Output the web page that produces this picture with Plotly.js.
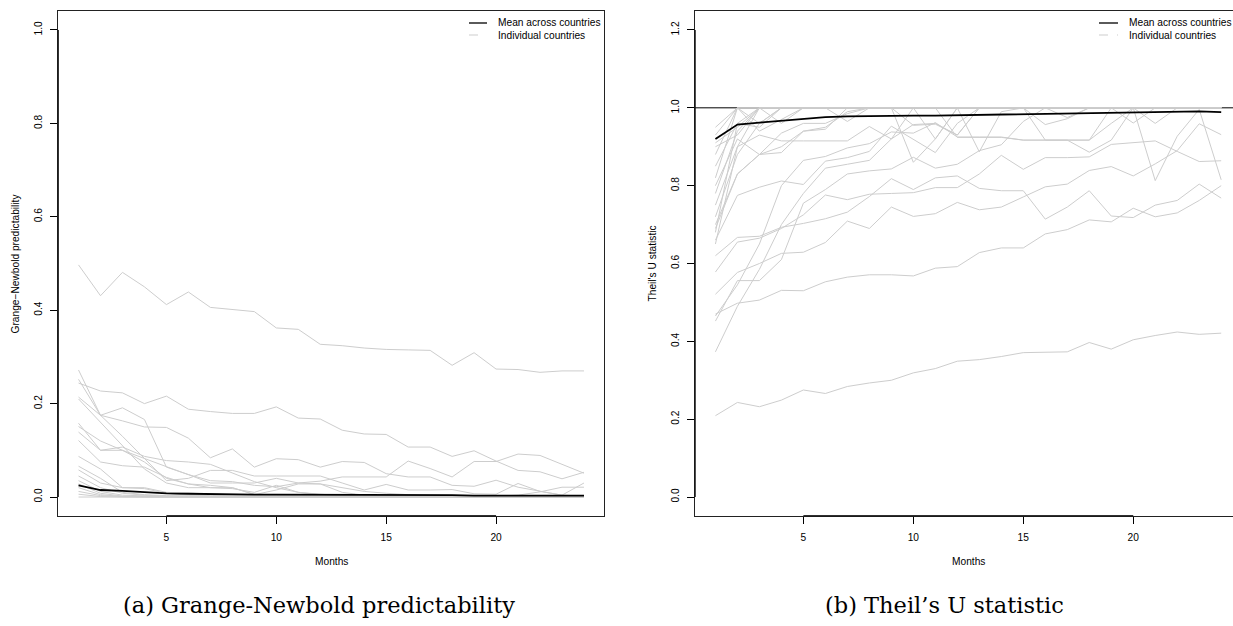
<!DOCTYPE html>
<html><head><meta charset="utf-8">
<script src="https://cdn.plot.ly/plotly-3.0.1.min.js"></script>
<style>html,body{margin:0;padding:0;background:#fff;} #chart{width:1233px;height:626px;}</style>
</head><body><div id="chart"></div>
<script>
// ---------- data ----------
const months = [1,2,3,4,5,6,7,8,9,10,11,12,13,14,15,16,17,18,19,20,21,22,23,24];
const monthTicks = [5,10,15,20];
const gnTicks = [0,0.2,0.4,0.6,0.8,1.0];
const tuTicks = [0,0.2,0.4,0.6,0.8,1.0,1.2];

// (a) Grange-Newbold predictability, individual countries
const gn01 = [0.497,0.431,0.481,0.450,0.412,0.439,0.406,0.402,0.397,0.362,0.359,0.327,0.324,0.319,0.316,0.315,0.314,0.282,0.309,0.274,0.273,0.267,0.270,0.270];
const gn02 = [0.244,0.227,0.223,0.200,0.216,0.188,0.183,0.179,0.179,0.193,0.169,0.167,0.143,0.135,0.134,0.107,0.107,0.087,0.099,0.077,0.057,0.054,0.039,0.053];
const gn03 = [0.214,0.175,0.163,0.150,0.149,0.126,0.084,0.103,0.064,0.082,0.080,0.064,0.076,0.074,0.050,0.043,0.043,0.025,0.023,0.036,0.021,0.013,0.004,0.002];
const gn04 = [0.252,0.175,0.191,0.166,0.064,0.048,0.035,0.033,0.025,0.022,0.030,0.034,0.043,0.043,0.043,0.077,0.061,0.043,0.076,0.076,0.092,0.089,0.070,0.051];
const gn05 = [0.272,0.175,0.130,0.083,0.035,0.040,0.057,0.057,0.045,0.045,0.045,0.045,0.030,0.015,0.027,0.015,0.015,0.016,0.007,0.006,0.029,0.012,0.004,0.030];
const gn06 = [0.210,0.160,0.110,0.060,0.030,0.020,0.020,0.018,0.010,0.025,0.010,0.005,0.002,0.002,0.002,0.002,0.002,0.002,0.002,0.002,0.004,0.011,0.021,0.021];
const gn07 = [0.158,0.100,0.107,0.087,0.078,0.075,0.070,0.052,0.033,0.020,0.010,0.006,0.003,0.002,0.002,0.001,0.001,0.001,0.001,0.001,0.001,0.001,0.001,0.001];
const gn08 = [0.151,0.120,0.100,0.082,0.065,0.048,0.030,0.030,0.030,0.040,0.030,0.028,0.020,0.012,0.008,0.005,0.004,0.004,0.003,0.003,0.002,0.002,0.002,0.002];
const gn09 = [0.139,0.100,0.100,0.075,0.040,0.028,0.025,0.020,0.005,0.015,0.028,0.028,0.010,0.004,0.002,0.002,0.002,0.001,0.001,0.001,0.001,0.001,0.001,0.001];
const gn10 = [0.121,0.075,0.067,0.064,0.042,0.028,0.020,0.020,0.006,0.003,0.002,0.002,0.002,0.001,0.001,0.001,0.001,0.001,0.001,0.001,0.001,0.001,0.001,0.001];
const gn11 = [0.087,0.060,0.020,0.020,0.010,0.008,0.006,0.005,0.004,0.003,0.003,0.002,0.002,0.002,0.001,0.001,0.001,0.001,0.001,0.001,0.001,0.001,0.001,0.001];
const gn12 = [0.066,0.040,0.010,0.005,0.003,0.002,0.002,0.001,0.001,0.001,0.001,0.001,0.001,0.001,0.001,0.001,0.001,0.001,0.001,0.001,0.001,0.001,0.001,0.001];
const gn13 = [0.058,0.030,0.020,0.018,0.008,0.004,0.003,0.002,0.002,0.001,0.001,0.001,0.001,0.001,0.001,0.001,0.001,0.001,0.001,0.001,0.001,0.001,0.001,0.001];
const gn14 = [0.045,0.020,0.008,0.004,0.002,0.001,0.001,0.001,0.001,0.001,0.001,0.001,0.000,0.000,0.000,0.000,0.000,0.000,0.000,0.000,0.000,0.000,0.000,0.000];
const gn15 = [0.035,0.012,0.004,0.002,0.001,0.001,0.000,0.000,0.000,0.000,0.000,0.000,0.000,0.000,0.000,0.000,0.000,0.000,0.000,0.000,0.000,0.000,0.000,0.000];
const gn16 = [0.028,0.008,0.002,0.001,0.000,0.000,0.000,0.000,0.000,0.000,0.000,0.000,0.000,0.000,0.000,0.000,0.000,0.000,0.000,0.000,0.000,0.000,0.000,0.000];
const gn17 = [0.020,0.005,0.001,0.000,0.000,0.000,0.000,0.000,0.000,0.000,0.000,0.000,0.000,0.000,0.000,0.000,0.000,0.000,0.000,0.000,0.000,0.000,0.000,0.000];
const gn18 = [0.012,0.003,0.001,0.000,0.000,0.000,0.000,0.000,0.000,0.000,0.000,0.000,0.000,0.000,0.000,0.000,0.000,0.000,0.000,0.000,0.000,0.000,0.000,0.000];
const gn19 = [0.006,0.001,0.000,0.000,0.000,0.000,0.000,0.000,0.000,0.000,0.000,0.000,0.000,0.000,0.000,0.000,0.000,0.000,0.000,0.000,0.000,0.000,0.000,0.000];
const gn20 = [0.000,0.000,0.000,0.000,0.000,0.000,0.000,0.000,0.000,0.000,0.000,0.000,0.000,0.000,0.000,0.000,0.000,0.000,0.000,0.000,0.000,0.000,0.000,0.000];
const gnMean = [0.025,0.015,0.013,0.010,0.008,0.007,0.006,0.006,0.005,0.005,0.005,0.005,0.004,0.004,0.004,0.004,0.004,0.004,0.003,0.003,0.003,0.003,0.003,0.003];

// (b) Theil's U statistic, individual countries
const tu01 = [0.209,0.243,0.232,0.249,0.275,0.266,0.284,0.293,0.300,0.319,0.330,0.349,0.353,0.361,0.371,0.372,0.373,0.397,0.380,0.404,0.415,0.424,0.418,0.421];
const tu02 = [0.470,0.498,0.506,0.531,0.530,0.553,0.565,0.571,0.571,0.568,0.588,0.592,0.628,0.640,0.640,0.676,0.687,0.712,0.707,0.742,0.720,0.730,0.762,0.800];
const tu03 = [0.521,0.577,0.600,0.626,0.629,0.654,0.709,0.690,0.745,0.721,0.728,0.757,0.738,0.745,0.771,0.797,0.804,0.839,0.849,0.825,0.856,0.890,0.959,0.931];
const tu04 = [0.620,0.667,0.670,0.693,0.703,0.715,0.732,0.772,0.818,0.790,0.820,0.825,0.793,0.787,0.787,0.714,0.745,0.787,0.722,0.718,0.750,0.762,0.804,0.768];
const tu05 = [0.578,0.655,0.665,0.690,0.725,0.776,0.764,0.778,0.780,0.782,0.795,0.795,0.830,0.878,0.842,0.872,0.872,0.874,0.906,0.910,0.915,0.888,0.862,0.864];
const tu06 = [0.452,0.556,0.556,0.610,0.755,0.790,0.830,0.838,0.843,0.873,0.845,0.855,0.890,0.905,0.965,1.000,0.975,1.000,1.000,1.000,1.000,1.000,1.000,1.000];
const tu07 = [0.373,0.490,0.585,0.700,0.780,0.845,0.855,0.865,0.920,0.957,0.960,0.930,1.000,1.000,1.000,1.000,1.000,1.000,1.000,1.000,1.000,1.000,1.000,1.000];
const tu08 = [0.465,0.545,0.650,0.800,0.865,0.875,0.897,0.908,0.938,0.935,0.962,0.925,0.925,0.925,0.917,0.917,0.917,0.886,0.917,1.000,0.960,1.000,1.000,1.000];
const tu09 = [0.660,0.775,0.796,0.812,0.803,0.863,0.872,0.888,0.953,0.920,0.885,0.960,1.000,1.000,1.000,1.000,1.000,1.000,1.000,1.000,1.000,1.000,1.000,1.000];
const tu10 = [0.700,0.830,0.880,0.885,0.940,0.945,1.000,1.000,1.000,0.955,0.958,0.930,1.000,1.000,1.000,1.000,1.000,1.000,1.000,1.000,1.000,1.000,1.000,1.000];
const tu11 = [0.750,0.900,0.930,0.915,0.915,0.915,0.915,0.952,0.920,1.000,1.000,0.924,0.924,0.924,0.917,0.917,0.917,0.917,0.960,1.000,1.000,1.000,1.000,1.000];
const tu12 = [0.800,0.920,0.880,0.935,0.960,0.960,0.985,1.000,1.000,1.000,0.920,1.000,0.887,0.990,1.000,0.957,0.972,1.000,1.000,0.961,1.000,1.000,1.000,1.000];
const tu13 = [0.850,0.960,1.000,0.960,1.000,1.000,0.965,1.000,1.000,0.860,0.920,1.000,1.000,1.000,1.000,1.000,1.000,1.000,1.000,1.000,0.813,0.927,0.996,0.815];
const tu14 = [0.880,1.000,0.940,0.970,1.000,1.000,1.000,1.000,1.000,1.000,1.000,1.000,1.000,1.000,1.000,0.917,0.917,0.917,1.000,1.000,1.000,1.000,1.000,1.000];
const tu15 = [0.900,0.930,1.000,1.000,1.000,1.000,1.000,1.000,1.000,1.000,1.000,1.000,1.000,1.000,1.000,1.000,1.000,1.000,1.000,1.000,1.000,1.000,1.000,1.000];
const tu16 = [0.930,1.000,1.000,1.000,1.000,1.000,1.000,1.000,1.000,1.000,1.000,1.000,1.000,1.000,1.000,1.000,1.000,1.000,1.000,1.000,1.000,1.000,1.000,1.000];
const tu17 = [0.950,1.000,0.960,1.000,1.000,1.000,1.000,1.000,1.000,1.000,1.000,1.000,1.000,1.000,1.000,1.000,1.000,1.000,1.000,1.000,1.000,1.000,1.000,1.000];
const tu18 = [0.650,0.900,1.000,1.000,1.000,1.000,1.000,1.000,1.000,1.000,1.000,1.000,1.000,1.000,1.000,1.000,1.000,1.000,1.000,1.000,1.000,1.000,1.000,1.000];
const tu19 = [0.680,0.960,0.950,1.000,1.000,1.000,1.000,1.000,1.000,1.000,1.000,1.000,1.000,1.000,1.000,1.000,1.000,1.000,1.000,1.000,1.000,1.000,1.000,1.000];
const tu20 = [0.720,0.880,0.960,1.000,1.000,1.000,1.000,1.000,1.000,1.000,1.000,1.000,1.000,1.000,1.000,1.000,1.000,1.000,1.000,1.000,1.000,1.000,1.000,1.000];
const tu21 = [0.780,0.940,1.000,1.000,1.000,1.000,1.000,1.000,1.000,1.000,1.000,1.000,1.000,1.000,1.000,1.000,1.000,1.000,1.000,1.000,1.000,1.000,1.000,1.000];
const tu22 = [0.820,1.000,1.000,1.000,1.000,1.000,1.000,1.000,1.000,1.000,1.000,1.000,1.000,1.000,1.000,1.000,1.000,1.000,1.000,1.000,1.000,1.000,1.000,1.000];
const tu23 = [0.690,0.830,0.880,0.900,0.940,0.950,0.990,1.000,1.000,1.000,1.000,1.000,1.000,1.000,1.000,1.000,1.000,1.000,1.000,1.000,1.000,1.000,1.000,1.000];
const tu24 = [0.910,0.950,1.000,1.000,1.000,1.000,1.000,1.000,1.000,1.000,1.000,1.000,1.000,1.000,1.000,1.000,1.000,1.000,1.000,1.000,1.000,1.000,1.000,1.000];
const tuMean = [0.920,0.957,0.962,0.967,0.972,0.976,0.978,0.979,0.979,0.980,0.980,0.981,0.982,0.983,0.984,0.984,0.985,0.986,0.987,0.987,0.988,0.989,0.991,0.989];

const gnSeries = [gn01,gn02,gn03,gn04,gn05,gn06,gn07,gn08,gn09,gn10,gn11,gn12,gn13,gn14,gn15,gn16,gn17,gn18,gn19,gn20];
const tuSeries = [tu01,tu02,tu03,tu04,tu05,tu06,tu07,tu08,tu09,tu10,tu11,tu12,tu13,tu14,tu15,tu16,tu17,tu18,tu19,tu20,tu21,tu22,tu23,tu24];

// ---------- layout geometry (pixels) ----------
const W = 1233, H = 626;
const fx = p => p / W, fy = p => 1 - p / H;
const boxTop = 11.3, boxBot = 515.7;
const aLeft = 58.3, aRight = 604.2;
const bLeft = 695.2;
const GRAY = '#cdcdcd';
const SANS = 'Liberation Sans, Arial, Helvetica, sans-serif';
const SERIF = 'DejaVu Serif, serif';
const FS = 10.2;
const legB = 1099;   // left end of panel (b) legend key

const traces = [];
gnSeries.forEach(s => traces.push({x: months, y: s, xaxis: 'x', yaxis: 'y', type: 'scatter', mode: 'lines',
  line: {color: GRAY, width: 1}, hoverinfo: 'skip'}));
traces.push({x: months, y: gnMean, xaxis: 'x', yaxis: 'y', type: 'scatter', mode: 'lines',
  line: {color: '#000', width: 1.8}, hoverinfo: 'skip'});
tuSeries.forEach(s => traces.push({x: months, y: s, xaxis: 'x2', yaxis: 'y2', type: 'scatter', mode: 'lines',
  line: {color: GRAY, width: 1}, hoverinfo: 'skip'}));
traces.push({x: months, y: tuMean, xaxis: 'x2', yaxis: 'y2', type: 'scatter', mode: 'lines',
  line: {color: '#000', width: 1.8}, hoverinfo: 'skip'});

const pxPerMonth = 21.99;
const baseAxis = {
  showgrid: false, zeroline: false, showline: true, linecolor: '#222', linewidth: 1,
  ticks: 'outside', ticklen: 7, tickwidth: 1, tickcolor: '#000',
  tickfont: {family: SANS, size: FS, color: '#000'}, fixedrange: true
};

const layout = {
  width: W, height: H, margin: {l: 0, r: 0, t: 0, b: 0},
  paper_bgcolor: '#fff', plot_bgcolor: '#fff', showlegend: false,
  font: {family: SANS, size: FS, color: '#000'},
  xaxis: Object.assign({}, baseAxis, {domain: [fx(aLeft), fx(aRight)], range: [0.08, 24.92], anchor: 'y',
    tickmode: 'array', tickvals: monthTicks, mirror: true, ticklabelstandoff: 5}),
  yaxis: Object.assign({}, baseAxis, {domain: [fy(boxBot), fy(boxTop)], range: [-0.04, 1.04], anchor: 'x',
    tickmode: 'array', tickvals: gnTicks, tickformat: '.1f', tickangle: -90, mirror: true, ticklabelstandoff: 4}),
  xaxis2: Object.assign({}, baseAxis, {domain: [fx(bLeft), 1], range: [0.08, 0.08 + (W - bLeft) / pxPerMonth], anchor: 'y2',
    tickmode: 'array', tickvals: monthTicks, mirror: true, ticklabelstandoff: 5}),
  yaxis2: Object.assign({}, baseAxis, {domain: [fy(boxBot), fy(boxTop)], range: [-0.048, 1.248], anchor: 'x2',
    tickmode: 'array', tickvals: tuTicks, tickformat: '.1f', tickangle: -90, mirror: false, ticklabelstandoff: 4}),
  shapes: [
    // reference line at U = 1
    {type: 'line', xref: 'x2 domain', yref: 'y2', x0: 0, x1: 1, y0: 1, y1: 1, line: {color: '#000', width: 1}, layer: 'below'},
    // axis segments between first and last tick (R style)
    {type: 'line', xref: 'x', yref: 'y domain', x0: 5, x1: 20, y0: 0, y1: 0, line: {color: '#000', width: 1}},
    {type: 'line', xref: 'x domain', yref: 'y', x0: 0, x1: 0, y0: 0, y1: 1, line: {color: '#000', width: 1}},
    {type: 'line', xref: 'x2', yref: 'y2 domain', x0: 5, x1: 20, y0: 0, y1: 0, line: {color: '#000', width: 1}},
    {type: 'line', xref: 'x2 domain', yref: 'y2', x0: 0, x1: 0, y0: 0, y1: 1.2, line: {color: '#000', width: 1}},
    // legend keys
    {type: 'line', xref: 'paper', yref: 'paper', x0: fx(469), x1: fx(487), y0: fy(23), y1: fy(23), line: {color: '#000', width: 1.3}},
    {type: 'line', xref: 'paper', yref: 'paper', x0: fx(469), x1: fx(487), y0: fy(35), y1: fy(35), line: {color: GRAY, width: 1, dash: 'dash'}},
    {type: 'line', xref: 'paper', yref: 'paper', x0: fx(legB), x1: fx(legB + 19), y0: fy(23), y1: fy(23), line: {color: '#000', width: 1.3}},
    {type: 'line', xref: 'paper', yref: 'paper', x0: fx(legB), x1: fx(legB + 19), y0: fy(35), y1: fy(35), line: {color: GRAY, width: 1, dash: 'dash'}}
  ],
  annotations: [
    {text: 'Mean across countries', xref: 'paper', yref: 'paper', x: fx(496), y: fy(23), xanchor: 'left', yanchor: 'middle', showarrow: false, font: {family: SANS, size: FS}},
    {text: 'Individual countries', xref: 'paper', yref: 'paper', x: fx(496), y: fy(35), xanchor: 'left', yanchor: 'middle', showarrow: false, font: {family: SANS, size: FS}},
    {text: 'Mean across countries', xref: 'paper', yref: 'paper', x: fx(legB + 27.5), y: fy(23), xanchor: 'left', yanchor: 'middle', showarrow: false, font: {family: SANS, size: FS}},
    {text: 'Individual countries', xref: 'paper', yref: 'paper', x: fx(legB + 27.5), y: fy(35), xanchor: 'left', yanchor: 'middle', showarrow: false, font: {family: SANS, size: FS}},
    {text: 'Months', xref: 'paper', yref: 'paper', x: fx((aLeft + aRight) / 2), y: fy(561), xanchor: 'center', yanchor: 'middle', showarrow: false, font: {family: SANS, size: FS}},
    {text: 'Months', xref: 'paper', yref: 'paper', x: fx(968.4), y: fy(561), xanchor: 'center', yanchor: 'middle', showarrow: false, font: {family: SANS, size: FS}},
    {text: 'Grange\u2212Newbold predictability', xref: 'paper', yref: 'paper', x: fx(15), y: fy((boxTop + boxBot) / 2), textangle: -90, xanchor: 'center', yanchor: 'middle', showarrow: false, font: {family: SANS, size: FS}},
    {text: "Theil's U statistic", xref: 'paper', yref: 'paper', x: fx(652), y: fy((boxTop + boxBot) / 2), textangle: -90, xanchor: 'center', yanchor: 'middle', showarrow: false, font: {family: SANS, size: FS}},
    {text: '(a) Grange-Newbold predictability', xref: 'paper', yref: 'paper', x: fx(319), y: fy(605), xanchor: 'center', yanchor: 'middle', showarrow: false, font: {family: SERIF, size: 22.5, color: '#000'}},
    {text: '(b) Theil\u2019s U statistic', xref: 'paper', yref: 'paper', x: fx(944), y: fy(605), xanchor: 'center', yanchor: 'middle', showarrow: false, font: {family: SERIF, size: 22.5, color: '#000'}}
  ]
};

Plotly.newPlot('chart', traces, layout, {displayModeBar: false, staticPlot: true});
</script></body></html>
